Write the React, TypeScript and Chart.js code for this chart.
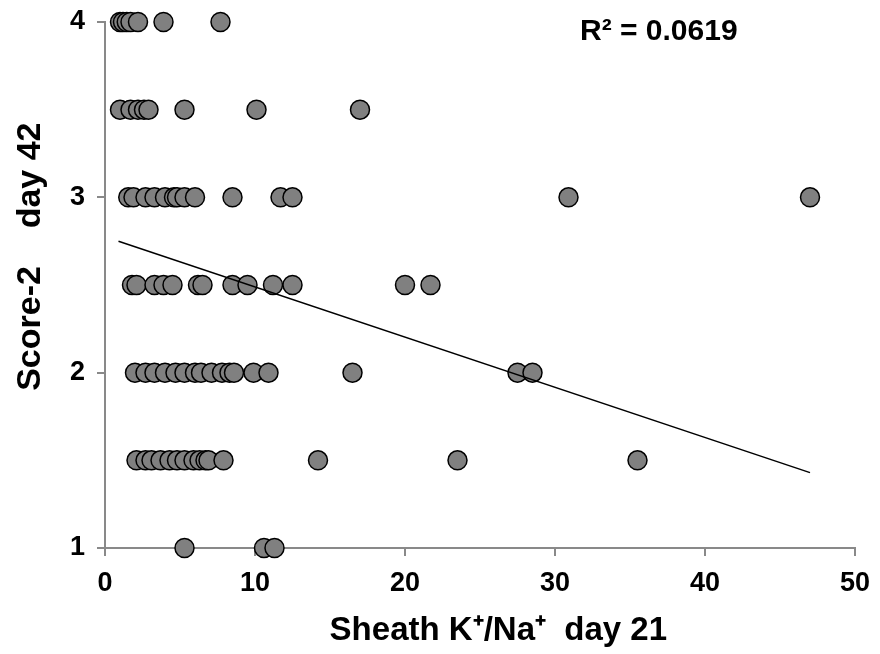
import React, { useEffect, useRef } from "react";
import { Chart, registerables } from "chart.js";

Chart.register(...registerables);

// Score levels (y) and the sheath K+/Na+ values (x) observed at each level
const scoreLevels = [4, 3.5, 3, 2.5, 2, 1.5, 1];
const xAtScore4 = [1.0, 1.2, 1.45, 1.7, 2.2, 3.9, 7.7];
const xAtScore35 = [1.0, 1.7, 2.2, 2.6, 2.9, 5.3, 10.1, 17.0];
const xAtScore3 = [1.55, 1.9, 2.7, 3.3, 4.0, 4.6, 4.8, 5.3, 6.0, 8.5, 11.7, 12.5, 30.9, 47.0];
const xAtScore25 = [1.8, 2.1, 3.3, 3.9, 4.5, 6.2, 6.5, 8.5, 9.5, 11.2, 12.5, 20.0, 21.7];
const xAtScore2 = [2.0, 2.7, 3.3, 4.0, 4.7, 5.3, 6.0, 6.4, 7.1, 7.8, 8.3, 8.6, 9.9, 10.9, 16.5, 27.5, 28.5];
const xAtScore15 = [2.1, 2.7, 3.1, 3.7, 4.3, 4.8, 5.3, 5.9, 6.3, 6.7, 6.9, 7.9, 14.2, 23.5, 35.5];
const xAtScore1 = [5.3, 10.6, 11.3];
const xByLevel = [xAtScore4, xAtScore35, xAtScore3, xAtScore25, xAtScore2, xAtScore15, xAtScore1];

// Linear trend line endpoints
const trendX = [0.9, 47.0];
const trendY = [2.75, 1.43];
const rSquaredLabel = "R² = 0.0619";

const xTicks = [0, 10, 20, 30, 40, 50];
const yTicks = [1, 2, 3, 4];

const FONT = "'Liberation Sans', Arial, Helvetica, sans-serif";

export default function App() {
  const canvasRef = useRef<HTMLCanvasElement | null>(null);

  useEffect(() => {
    if (!canvasRef.current) return;
    const points: { x: number; y: number }[] = [];
    scoreLevels.forEach((lvl, i) => {
      xByLevel[i].forEach((x) => points.push({ x, y: lvl }));
    });
    const trend = trendX.map((x, i) => ({ x, y: trendY[i] }));

    const chart = new Chart(canvasRef.current, {
      type: "scatter",
      data: {
        datasets: [
          {
            label: "trend",
            data: trend,
            showLine: true,
            borderColor: "#000",
            borderWidth: 1.5,
            pointRadius: 0,
            order: 0,
            clip: false,
          },
          {
            label: "points",
            data: points,
            pointRadius: 9.5,
            pointBackgroundColor: "#808080",
            pointBorderColor: "#000",
            pointBorderWidth: 1.5,
            order: 1,
            clip: false,
          },
        ],
      },
      options: {
        animation: false,
        responsive: false,
        devicePixelRatio: 1,
        layout: { padding: { top: 22, right: 25, left: 0, bottom: 0 } },
        plugins: { legend: { display: false }, tooltip: { enabled: false } },
        scales: {
          x: {
            type: "linear",
            min: 0,
            max: 50,
            afterBuildTicks: (s: any) => {
              s.ticks = xTicks.map((v) => ({ value: v }));
            },
            afterFit: (s: any) => {
              s.height = 106;
              s.paddingLeft = 0;
              s.paddingRight = 0;
            },
            ticks: {
              color: "#000",
              font: { family: FONT, size: 27, weight: "bold" },
              padding: 11,
              maxRotation: 0,
            },
            grid: { drawOnChartArea: false, drawTicks: true, tickLength: 8, color: "#898989", lineWidth: 2 },
            border: { color: "#898989", width: 2 },
            title: {
              display: true,
              text: "    Sheath K⁺/Na⁺  day 21",
              color: "#000",
              font: { family: FONT, size: 33, weight: "bold" },
              padding: { top: 0, bottom: 3 },
            },
          },
          y: {
            type: "linear",
            min: 1,
            max: 4,
            afterBuildTicks: (s: any) => {
              s.ticks = yTicks.map((v) => ({ value: v }));
            },
            afterFit: (s: any) => {
              s.width = 105;
              s.paddingTop = 0;
              s.paddingBottom = 0;
            },
            ticks: {
              color: "#000",
              font: { family: FONT, size: 27, weight: "bold" },
              padding: 12,
            },
            grid: { drawOnChartArea: false, drawTicks: true, tickLength: 8, color: "#898989", lineWidth: 2 },
            border: { color: "#898989", width: 2 },
            title: {
              display: true,
              text: "      Score-2    day 42",
              color: "#000",
              font: { family: FONT, size: 34, weight: "bold" },
              padding: { top: 10, bottom: 0 },
            },
          },
        },
      },
    });
    return () => chart.destroy();
  }, []);

  return (
    <div style={{ position: "absolute", left: 0, top: 0, width: 880, height: 654, background: "#fff" }}>
      <canvas ref={canvasRef} width={880} height={654} style={{ width: 880, height: 654, display: "block" }} />
      <div
        style={{
          position: "absolute",
          left: 580,
          top: 13,
          fontFamily: FONT,
          fontWeight: "bold",
          fontSize: 30,
          color: "#000",
          whiteSpace: "pre",
        }}
      >
        {rSquaredLabel}
      </div>
    </div>
  );
}
